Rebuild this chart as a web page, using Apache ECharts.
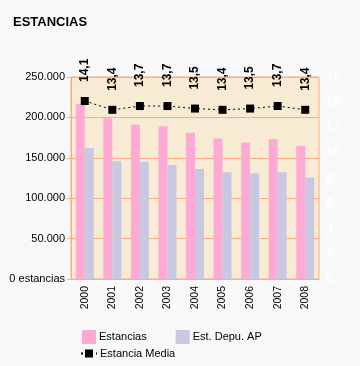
<!DOCTYPE html>
<html><head><meta charset="utf-8">
<script src="https://cdn.jsdelivr.net/npm/echarts@6/dist/echarts.min.js"></script>
<style>html,body{margin:0;padding:0;background:#f8f8f8;}#c{width:360px;height:366px;}</style>
</head><body><div id="c"></div>
<script>
var years = ['2000','2001','2002','2003','2004','2005','2006','2007','2008'];
var estancias = [217000, 199000, 191000, 189000, 181000, 174000, 169000, 173000, 165000];
var estDepu = [162000, 146000, 145000, 141000, 136000, 132000, 131000, 132000, 125500];
var estanciaMedia = [14.1, 13.4, 13.7, 13.7, 13.5, 13.4, 13.5, 13.7, 13.4];
var leftTicks = [0, 50000, 100000, 150000, 200000, 250000];

var orange = '#ffaa80';
var chart = echarts.init(document.getElementById('c'));
chart.setOption({
  backgroundColor: '#f8f8f8',
  animation: false,
  title: { text: 'ESTANCIAS', left: 8, top: 11, textStyle: { fontFamily: 'Liberation Sans, Arial', fontSize: 13, fontWeight: 'bold', color: '#000' } },
  grid: { left: 71, right: 41, top: 77, bottom: 87, show: true, backgroundColor: '#f8ebd3', borderColor: orange, borderWidth: 1 },
  legend: [
    { data: ['Estancias', 'Est. Depu. AP'], left: 77, top: 325, itemWidth: 14, itemHeight: 14, itemGap: 29, itemStyle: {borderWidth: 0},
      textStyle: { fontFamily: 'Liberation Sans, Arial', fontSize: 11, color: '#000', padding: [0,0,0,-2] }, icon: 'rect' },
    { data: ['Estancia Media'], left: 75, top: 343, itemWidth: 16, itemHeight: 10,
      textStyle: { fontFamily: 'Liberation Sans, Arial', fontSize: 11, color: '#000', padding: [0,0,0,-2] } }
  ],
  xAxis: {
    type: 'category', data: years,
    axisLine: { show: true, lineStyle: { color: orange } },
    axisTick: { show: false },
    axisLabel: { rotate: 90, fontFamily: 'Liberation Sans, Arial', fontSize: 10.5, color: '#000', margin: 7 }
  },
  yAxis: [
    { type: 'value', min: 0, max: 250000, interval: 50000,
      axisLine: { show: true, lineStyle: { color: orange } },
      axisTick: { show: true, length: 4, lineStyle: { color: orange } },
      splitLine: { show: true, lineStyle: { color: orange } },
      axisLabel: { fontFamily: 'Liberation Sans, Arial', fontSize: 11, color: '#000', margin: 6,
        formatter: function (v) { if (v === 0) return '0 estancias'; return (v/1000) + '.000'; } } },
    { type: 'value', min: 0, max: 16, interval: 2, position: 'right',
      axisLine: { show: false }, axisTick: { show: false }, splitLine: { show: false },
      axisLabel: { fontFamily: 'Liberation Sans, Arial', fontSize: 13, fontWeight: 'bold', color: '#ffffff', margin: 7 } }
  ],
  series: [
    { name: 'Estancias', type: 'bar', data: estancias, barWidth: 9, barGap: '0%', itemStyle: { color: '#ffaad5' } },
    { name: 'Est. Depu. AP', type: 'bar', data: estDepu, barWidth: 9, itemStyle: { color: '#c8c8e2' } },
    { name: 'Estancia Media', type: 'line', yAxisIndex: 1, data: estanciaMedia,
      symbol: 'rect', symbolSize: 8, itemStyle: { color: '#000' },
      lineStyle: { color: '#000', width: 1, type: [2, 3] },
      label: { show: true, position: 'top', rotate: 90, align: 'left', verticalAlign: 'middle', distance: 15,
        fontFamily: 'Liberation Sans, Arial', fontSize: 12, fontWeight: 'bold', color: '#000',
        formatter: function (p) { return String(p.value).replace('.', ','); } } }
  ]
});
</script></body></html>
